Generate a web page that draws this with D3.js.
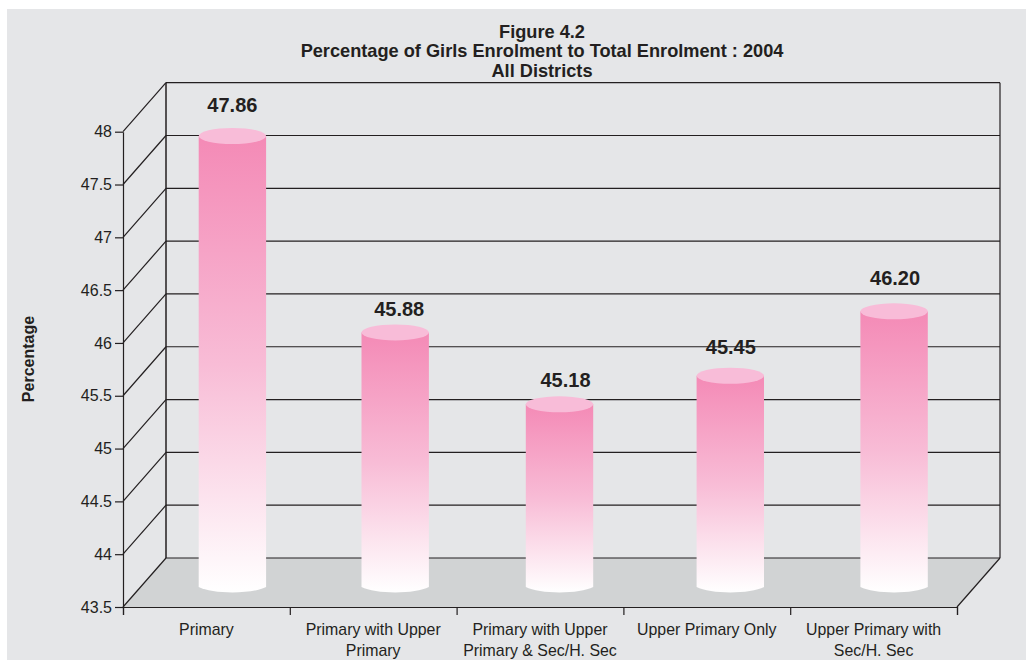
<!DOCTYPE html>
<html>
<head>
<meta charset="utf-8">
<script src="https://cdnjs.cloudflare.com/ajax/libs/d3/7.8.5/d3.min.js"></script>
<style>
  body { margin: 0; background: #fff; }
  svg { display: block; }
  text { font-family: "Liberation Sans", Arial, sans-serif; fill: #231f20; }
</style>
</head>
<body>
<script>
var titleLines = ["Figure 4.2", "Percentage of Girls Enrolment to Total Enrolment : 2004", "All Districts"]
var categories = ["Primary", "Primary with Upper Primary", "Primary with Upper Primary & Sec/H. Sec", "Upper Primary Only", "Upper Primary with Sec/H. Sec"]
var categoryLines = [["Primary"], ["Primary with Upper", "Primary"], ["Primary with Upper", "Primary & Sec/H. Sec"], ["Upper Primary Only"], ["Upper Primary with", "Sec/H. Sec"]]
//printed labels
var valueLabels = ["47.86", "45.88", "45.18", "45.45", "46.20"]
//the cylinders in the picture don't sit exactly at the printed value, these are read off the axis
var barLevels = [47.77, 45.91, 45.23, 45.5, 46.11]
var yTicks = [43.5, 44, 44.5, 45, 45.5, 46, 46.5, 47, 47.5, 48]

var width = 1026, height = 660

//front plane of the box (plotTop because window.top is read only)
var plotLeft = 123, plotRight = 957, plotBottom = 607, plotTop = 131.7
//how far the back wall is pushed from the front plane
var depthX = 43, depthY = 49
//the bars stand partway into the box
var barShiftX = 26, barShiftY = 20
var barRx = 33.7, barRy = 8
//the original bars and labels are hand placed, not quite on the band centres
var barNudge = [0, -4, -6.5, -2.5, -5.5]
var labelNudgeX = [0, 4, 6, 0.5, 1]
var labelNudgeY = [-2, 5.5, 5, 0, -4]

var svg = d3.select("body").append("svg")
    .attr("width", width)
    .attr("height", height)

svg.append("rect")
    .attr("x", 7).attr("y", 9)
    .attr("width", width - 7).attr("height", height - 9)
    .attr("fill", "#e5e6e8")

var y = d3.scaleLinear().domain([43.5, 48]).range([plotBottom, plotTop])
var x = d3.scaleBand().domain(categories).range([plotLeft, plotRight])
var xEdges = d3.scaleLinear().domain([0, categories.length]).range([plotLeft, plotRight])

//title
svg.append("g").selectAll("text")
    .data(titleLines).enter()
    .append("text")
    .attr("x", 542)
    .attr("y", function(d, i) { return 37.7 + i * 19.5 })
    .attr("text-anchor", "middle")
    .attr("font-size", 18.2)
    .attr("font-weight", "bold")
    .text(function(d) { return d })

//floor
svg.append("path")
    .attr("d", d3.line()([[plotLeft, plotBottom], [plotRight, plotBottom], [plotRight + depthX, plotBottom - depthY], [plotLeft + depthX, plotBottom - depthY]]) + "Z")
    .attr("fill", "#d1d3d4")

//back wall gridlines and the diagonals on the left wall
var grid = svg.append("g").attr("stroke", "#231f20").attr("fill", "none")
grid.selectAll("line.back")
    .data(yTicks).enter()
    .append("line")
    .attr("class", "back")
    .attr("x1", plotLeft + depthX).attr("x2", plotRight + depthX)
    .attr("y1", function(d) { return y(d) - depthY })
    .attr("y2", function(d) { return y(d) - depthY })
    .attr("stroke-width", 1.2)
grid.selectAll("line.side")
    .data(yTicks).enter()
    .append("line")
    .attr("class", "side")
    .attr("x1", plotLeft).attr("x2", plotLeft + depthX)
    .attr("y1", function(d) { return y(d) })
    .attr("y2", function(d) { return y(d) - depthY })
    .attr("stroke-width", 1.2)
//box edges
grid.append("line")
    .attr("x1", plotLeft + depthX).attr("x2", plotLeft + depthX)
    .attr("y1", y(48) - depthY).attr("y2", y(43.5) - depthY)
    .attr("stroke-width", 1.5)
grid.append("line")
    .attr("x1", plotRight + depthX).attr("x2", plotRight + depthX)
    .attr("y1", y(48) - depthY).attr("y2", y(43.5) - depthY)
    .attr("stroke-width", 1.2)
grid.append("line")
    .attr("x1", plotRight).attr("x2", plotRight + depthX)
    .attr("y1", plotBottom).attr("y2", plotBottom - depthY)
    .attr("stroke-width", 1.2)

//bars
var defs = svg.append("defs")
var barX = function(i) { return x(categories[i]) + x.bandwidth() / 2 + barShiftX + barNudge[i] }
var barY = function(v) { return y(v) - barShiftY }

categories.forEach(function(c, i) {
    var grad = defs.append("linearGradient")
        .attr("id", "barGrad" + i)
        .attr("x1", 0).attr("y1", 0).attr("x2", 0).attr("y2", 1)
    grad.append("stop").attr("offset", 0).attr("stop-color", "#f48ab6")
    grad.append("stop").attr("offset", 0.5).attr("stop-color", "#f8bcd6")
    grad.append("stop").attr("offset", 1).attr("stop-color", "#ffffff")
})

var bars = svg.append("g").selectAll("g")
    .data(barLevels).enter()
    .append("g")

bars.append("path")
    .attr("d", function(d, i) {
        var cx = barX(i), p = d3.path()
        p.moveTo(cx - barRx, barY(d))
        p.lineTo(cx - barRx, barY(43.5))
        p.bezierCurveTo(cx - barRx * 0.6, barY(43.5) + barRy * 0.9, cx + barRx * 0.6, barY(43.5) + barRy * 0.9, cx + barRx, barY(43.5))
        p.lineTo(cx + barRx, barY(d))
        p.closePath()
        return p.toString()
    })
    .attr("fill", function(d, i) { return "url(#barGrad" + i + ")" })

bars.append("ellipse")
    .attr("cx", function(d, i) { return barX(i) })
    .attr("cy", function(d) { return barY(d) })
    .attr("rx", barRx)
    .attr("ry", barRy)
    .attr("fill", "#f8bcd8")

//value labels
bars.append("text")
    .attr("x", function(d, i) { return barX(i) + labelNudgeX[i] })
    .attr("y", function(d, i) { return barY(d) - 22 + labelNudgeY[i] })
    .attr("text-anchor", "middle")
    .attr("font-size", 20)
    .attr("font-weight", "bold")
    .text(function(d, i) { return valueLabels[i] })

//axes
var yAxis = svg.append("g")
    .attr("transform", "translate(" + plotLeft + ",0)")
    .call(d3.axisLeft(y).tickValues(yTicks).tickSizeInner(8).tickSizeOuter(0).tickPadding(3).tickFormat(function(d) { return d }))
yAxis.attr("font-family", null)
yAxis.selectAll("text").attr("font-size", 16)
yAxis.selectAll("line, path").attr("stroke", "#231f20").attr("stroke-width", 1.2)

var xAxis = svg.append("g")
    .attr("transform", "translate(0," + plotBottom + ")")
    .call(d3.axisBottom(xEdges).ticks(categories.length).tickSize(8).tickFormat(""))
xAxis.selectAll("line, path").attr("stroke", "#231f20").attr("stroke-width", 1.2)

//category labels
var catText = svg.append("g").selectAll("text")
    .data(categories).enter()
    .append("text")
    .attr("text-anchor", "middle")
    .attr("font-size", 15.9)
catText.each(function(c, i) {
    d3.select(this).selectAll("tspan")
        .data(categoryLines[i]).enter()
        .append("tspan")
        .attr("x", x(c) + x.bandwidth() / 2)
        .attr("y", function(d, j) { return 635 + j * 21 })
        .text(function(d) { return d })
})

//y title
svg.append("text")
    .attr("transform", "translate(34,359) rotate(-90)")
    .attr("text-anchor", "middle")
    .attr("font-size", 16)
    .attr("font-weight", "bold")
    .text("Percentage")
</script>
</body>
</html>
